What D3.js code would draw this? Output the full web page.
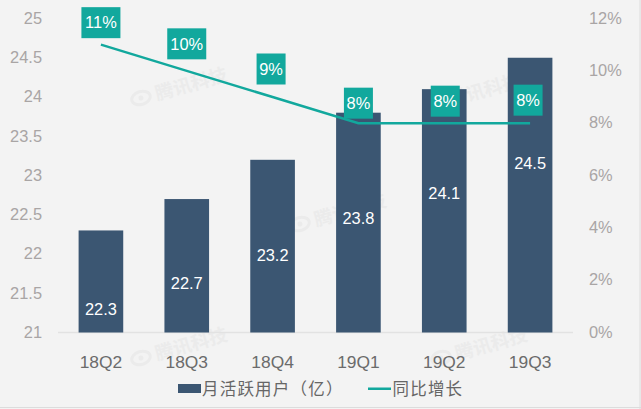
<!DOCTYPE html>
<html>
<head>
<meta charset="utf-8">
<script src="https://cdn.jsdelivr.net/npm/d3@7"></script>
<style>
  html, body { margin: 0; padding: 0; background: #f3f3f3; }
  svg { display: block; }
  text { font-family: "Liberation Sans", Arial, sans-serif; }
  .tick text { fill: #a9a5a5; font-size: 16.4px; font-family: "Liberation Sans", Arial, sans-serif; }
  .cat .tick text { fill: #6b6b6b; font-size: 17.4px; }
  .domain, .tick line { display: none; }
</style>
</head>
<body>
<svg class="chart"></svg>
<script>
// Chart data
var quarters = ["18Q2", "18Q3", "18Q4", "19Q1", "19Q2", "19Q3"];
var users = [22.3, 22.7, 23.2, 23.8, 24.1, 24.5];
var growth = [11, 10, 9, 8, 8, 8];
var growthLabels = ["11%", "10%", "9%", "8%", "8%", "8%"];
var userTicks = [21, 21.5, 22, 22.5, 23, 23.5, 24, 24.5, 25];
var growthTicks = [0, 2, 4, 6, 8, 10, 12];
var seriesNames = ["月活跃用户（亿）", "同比增长"];

// Where the labels were dragged to in the original, relative to their marks
var userLabelRise = [23, 49, 77, 114, 139, 169];
var growthLabelShift = [[0, -22], [0, -27], [-1.5, -28], [0, -20], [1, -22], [-2, -23]];
var growthBoxWidth = [39, 39, 29, 29, 29, 29];

// Watermark positions
var watermarks = [[141, 98], [141, 358], [300, 224], [434, 104], [441, 358]];

var imageWidth = 641;
var imageHeight = 409;
var baseY = 332.5;
var topY = 18.5;

var barColor = "#3b5672";
var lineColor = "#12a89d";
var markColor = "#ebebeb";

var canvas = d3.select(".chart")
    .attr("width", imageWidth)
    .attr("height", imageHeight);

// Scales
var xScale = d3.scaleBand()
    .domain(quarters)
    .range([58, 573])
    .paddingInner(0.48)
    .paddingOuter(0.24);

var yScale = d3.scaleLinear()
    .domain([21, 25])
    .range([baseY, topY]);

var growthScale = d3.scaleLinear()
    .domain([0, 12])
    .range([baseY, topY]);

function centerX(q) { return xScale(q) + xScale.bandwidth() / 2; }

// Outer frame of the screenshot
canvas.append("line")
    .attr("x1", 0).attr("x2", imageWidth)
    .attr("y1", 407.5).attr("y2", 407.5)
    .attr("stroke", "#dcdcdc");
canvas.append("line")
    .attr("x1", 640).attr("x2", 640)
    .attr("y1", 0).attr("y2", imageHeight)
    .attr("stroke", "#dcdcdc");

// Watermarks
var mark = canvas.selectAll("g.watermark").data(watermarks).enter().append("g")
    .attr("class", "watermark")
    .attr("transform", function(d) { return "translate(" + d[0] + "," + d[1] + ") rotate(-16)"; });
mark.append("ellipse")
    .attr("rx", 9.5).attr("ry", 6.5)
    .attr("fill", "none")
    .attr("stroke", markColor)
    .attr("stroke-width", 3);
mark.append("circle")
    .attr("r", 2.5)
    .attr("fill", markColor);
mark.append("text")
    .attr("x", 15).attr("y", 7)
    .attr("fill", markColor)
    .style("font-family", "'Noto Sans CJK SC'")
    .style("font-weight", "bold")
    .style("font-size", "18.5px")
    .text("腾讯科技");

// Left axis
canvas.append("g")
    .attr("transform", "translate(42,-0.5)")
    .call(d3.axisLeft(yScale).tickValues(userTicks).tickSize(0).tickPadding(0).tickFormat(d3.format("")));

// Right axis
canvas.append("g")
    .attr("transform", "translate(589,-0.5)")
    .call(d3.axisRight(growthScale).tickValues(growthTicks).tickSize(0).tickPadding(0).tickFormat(function(d) { return d + "%"; }));

// Baseline
canvas.append("line")
    .attr("x1", 58).attr("x2", 573)
    .attr("y1", baseY).attr("y2", baseY)
    .attr("stroke", "#e2e2e2")
    .attr("stroke-width", 1.5);

// Category axis
canvas.append("g")
    .attr("class", "cat")
    .attr("transform", "translate(0," + baseY + ")")
    .call(d3.axisBottom(xScale).tickSize(0).tickPadding(23));

// Bars
canvas.selectAll("rect.bar").data(users).enter().append("rect")
    .attr("class", "bar")
    .attr("x", function(d, i) { return xScale(quarters[i]); })
    .attr("y", function(d) { return yScale(d); })
    .attr("width", xScale.bandwidth())
    .attr("height", function(d) { return baseY - yScale(d); })
    .attr("fill", barColor);

// Growth line
var line = d3.line()
    .x(function(d, i) { return centerX(quarters[i]); })
    .y(function(d) { return growthScale(d); });

canvas.append("path")
    .datum(growth)
    .attr("d", line)
    .attr("fill", "none")
    .attr("stroke", lineColor)
    .attr("stroke-width", 2.5);

// Bar value labels
canvas.selectAll("text.value").data(users).enter().append("text")
    .attr("class", "value")
    .attr("x", function(d, i) { return centerX(quarters[i]); })
    .attr("y", function(d, i) { return baseY - userLabelRise[i]; })
    .attr("dy", "0.35em")
    .attr("text-anchor", "middle")
    .attr("fill", "#fff")
    .style("font-size", "16.4px")
    .text(function(d) { return d.toFixed(1); });

// Growth label boxes
var boxes = canvas.selectAll("g.growthBox").data(growth).enter().append("g")
    .attr("class", "growthBox")
    .attr("transform", function(d, i) {
        var s = growthLabelShift[i];
        return "translate(" + (centerX(quarters[i]) + s[0]) + "," + (growthScale(d) + s[1]) + ")";
    });
boxes.append("rect")
    .attr("x", function(d, i) { return -growthBoxWidth[i] / 2; })
    .attr("y", -15.5)
    .attr("width", function(d, i) { return growthBoxWidth[i]; })
    .attr("height", 31)
    .attr("fill", lineColor);
boxes.append("text")
    .attr("text-anchor", "middle")
    .attr("dy", "0.35em")
    .attr("fill", "#fff")
    .style("font-size", "16.4px")
    .text(function(d, i) { return growthLabels[i]; });

// Legend
canvas.append("rect")
    .attr("x", 178).attr("y", 384)
    .attr("width", 23).attr("height", 9)
    .attr("fill", barColor);
canvas.append("text")
    .attr("x", 202).attr("y", 389)
    .attr("dy", "0.35em")
    .attr("fill", "#666")
    .style("font-size", "16.5px")
    .style("font-family", "'Noto Sans CJK SC'")
    .style("letter-spacing", "1.2px")
    .text(seriesNames[0]);
canvas.append("rect")
    .attr("x", 368).attr("y", 387.5)
    .attr("width", 23).attr("height", 2.5)
    .attr("fill", lineColor);
canvas.append("text")
    .attr("x", 392.5).attr("y", 389)
    .attr("dy", "0.35em")
    .attr("fill", "#666")
    .style("font-size", "16.5px")
    .style("font-family", "'Noto Sans CJK SC'")
    .style("letter-spacing", "1.2px")
    .text(seriesNames[1]);
</script>
</body>
</html>
